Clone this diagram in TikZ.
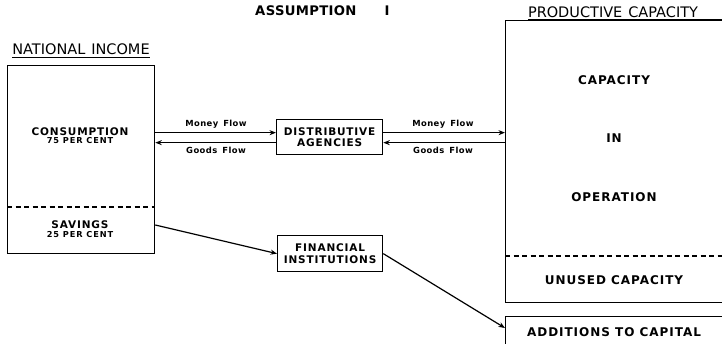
\documentclass[tikz,border=0pt]{standalone}
\usepackage{fontspec}
\setmainfont{DejaVu Sans}
\newfontfamily\spaced[LetterSpace=8]{DejaVu Sans}
\newfontfamily\spacedwide[LetterSpace=11]{DejaVu Sans}
\newfontfamily\spacedflow[LetterSpace=5]{DejaVu Sans}
\newfontfamily\spacedtitle[LetterSpace=2.5]{DejaVu Sans}
\usetikzlibrary{arrows.meta}

\newcommand{\fsz}[1]{\fontsize{#1}{#1}\selectfont}

\begin{document}
\begin{tikzpicture}[x=1pt,y=-1pt,
  box/.style={draw,line width=1.3pt,rectangle,anchor=north west,inner sep=0pt},
  lbl/.style={inner sep=0pt,font=\spaced\bfseries\fsz{10.5},align=center},
  sub/.style={inner sep=0pt,font=\spacedwide\bfseries\fsz{8.2}},
  big/.style={inner sep=0pt,font=\spaced\bfseries\fsz{12}},
  flowlbl/.style={inner sep=0pt,font=\spacedflow\bfseries\fsz{8.4}},
  head/.style={inner sep=0pt,font=\fsz{14.5}},
  flow/.style={line width=1.2pt,-{Stealth[length=6.5pt,width=5pt]}},
  sep/.style={line width=1.2pt,dash pattern=on 5pt off 3.5pt}]

\useasboundingbox (0,0) rectangle (722,343);

% title
\node[inner sep=0pt,font=\spacedtitle\bfseries\fsz{13.2},anchor=base west] (title) at (255,15) {ASSUMPTION\hspace{28pt}I};

% national income block
\node[box,minimum width=147pt,minimum height=188pt] (ni) at (7,65) {};
\node[head,anchor=base] (nihead) at (81,54) {NATIONAL\hspace{6pt}INCOME};
\draw[line width=1pt] (nihead.base west) ++(0,3) coordinate (u1) -- (u1 -| nihead.base east);
\draw[sep] (ni.west |- 0,207) coordinate (d1) -- (d1 -| ni.east);
\node[lbl] (cons) at (80,132) {CONSUMPTION};
\node[sub] (cpct) at (80,141) {75 PER CENT};
\node[lbl] (sav) at (80,225) {SAVINGS};
\node[sub] (spct) at (80,235) {25 PER CENT};

% intermediaries
\node[box,minimum width=106pt,minimum height=35pt] (da) at (276,119) {};
\node[lbl] at (da.center) {DISTRIBUTIVE\\[0pt]AGENCIES};
\node[box,minimum width=105pt,minimum height=36pt] (fi) at (277,235) {};
\node[lbl] at (fi.center) {FINANCIAL\\[1.5pt]INSTITUTIONS};

% productive capacity block
\node[box,minimum width=240pt,minimum height=282pt] (pc) at (505,20) {};
\node[head,anchor=base] (pchead) at (613,17) {PRODUCTIVE\hspace{6pt}CAPACITY};
\draw[line width=1pt] (pchead.base west) ++(0,2.5) coordinate (u2) -- (u2 -| pc.north east);
\draw[sep] (pc.west |- 0,256) coordinate (d2) -- (d2 -| pc.east);
\node[big] at (614,80) {CAPACITY};
\node[big] at (614,138) {IN};
\node[big] at (614,197) {OPERATION};
\node[big] at (614,280) {UNUSED CAPACITY};

\node[box,minimum width=240pt,minimum height=40pt] (ac) at (505,316) {};
\node[big] at (614,332) {ADDITIONS TO CAPITAL};

% flows between the blocks
\draw[flow] ([yshift=4.5pt]da.west -| ni.east) -- ([yshift=4.5pt]da.west);
\draw[flow] ([yshift=-5.5pt]da.west) -- ([yshift=-5.5pt]da.west -| ni.east);
\draw[flow] ([yshift=4.5pt]da.east) -- ([yshift=4.5pt]da.east -| pc.west);
\draw[flow] ([yshift=-5.5pt]da.east -| pc.west) -- ([yshift=-5.5pt]da.east);

\node[flowlbl] at (216,124) {Money\hspace{5pt}Flow};
\node[flowlbl] at (216,150) {Goods\hspace{5pt}Flow};
\node[flowlbl] at (443,124) {Money\hspace{5pt}Flow};
\node[flowlbl] at (443,150) {Goods\hspace{5pt}Flow};

\draw[flow] (sav -| ni.east) -- (fi.west);
\draw[flow] (fi.east) -- ([yshift=-12pt]ac.north west);
\end{tikzpicture}
\end{document}
